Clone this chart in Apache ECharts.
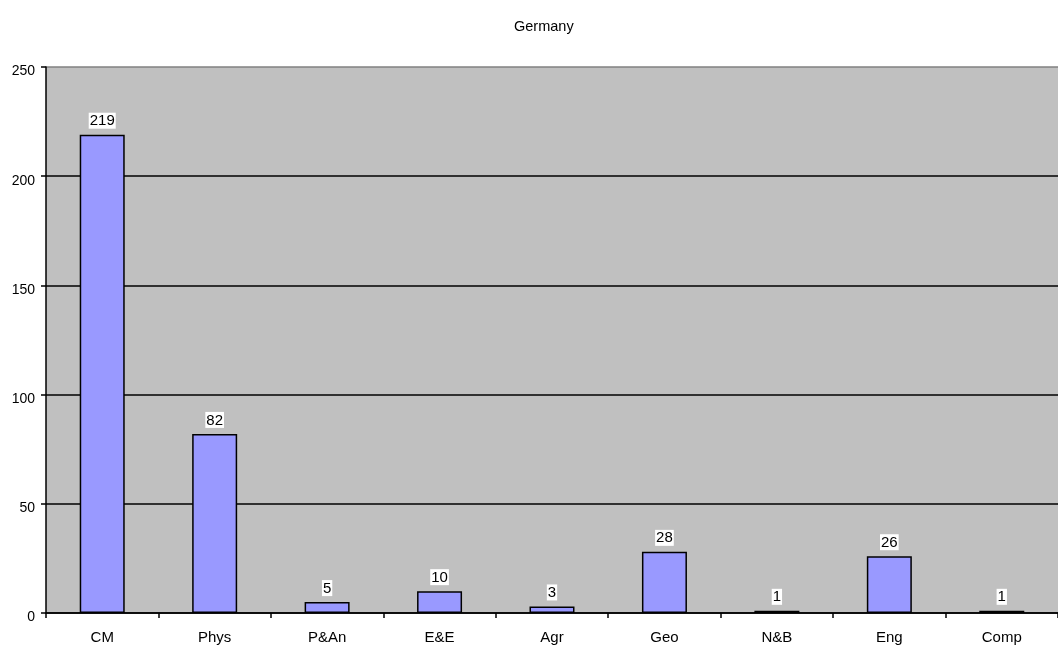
<!DOCTYPE html>
<html><head><meta charset="utf-8">
<script src="https://cdn.jsdelivr.net/npm/echarts@6/dist/echarts.min.js"></script>
<style>html,body{margin:0;padding:0;background:#fff}#c{width:1058px;height:646px}</style>
</head><body><div id="c"></div>
<script>
const categories = ['CM','Phys','P&An','E&E','Agr','Geo','N&B','Eng','Comp'];
const values = [219, 82, 5, 10, 3, 28, 1, 26, 1];
const yTicks = [0, 50, 100, 150, 200, 250];
const chart = echarts.init(document.getElementById('c'));
chart.setOption({
  animation: false,
  title: { text: 'Germany', left: 509, top: 14, textStyle: { fontFamily: 'Liberation Sans', fontSize: 14.5, fontWeight: 'normal', color: '#000' } },
  grid: { left: 46, top: 67, width: 1021, height: 546, backgroundColor: '#C0C0C0', show: true, borderWidth: 0 },
  xAxis: { type: 'category', data: categories,
    axisLine: { lineStyle: { color: '#000', width: 1.5 } },
    axisTick: { show: true, length: 5, lineStyle: { color: '#000', width: 1.5 } },
    axisLabel: { color: '#000', fontFamily: 'Liberation Sans', fontSize: 15, margin: 17 } },
  yAxis: { type: 'value', min: yTicks[0], max: yTicks[yTicks.length-1], interval: 50,
    axisLine: { show: true, lineStyle: { color: '#000', width: 1.5 } },
    axisTick: { show: true, length: 5, lineStyle: { color: '#000', width: 1.5 } },
    axisLabel: { color: '#000', fontFamily: 'Liberation Sans', fontSize: 14, margin: 11, verticalAlign: 'top', lineHeight: 9 },
    splitLine: { lineStyle: { color: ['#000','#000','#000','#000','#000','#808080'], width: 1.5 } } },
  series: [{ type: 'bar', data: values, barWidth: 45,
    itemStyle: { color: '#9999FF', borderColor: '#000', borderWidth: 1.5 },
    label: { show: true, position: 'top', distance: 6, color: '#000', fontFamily: 'Liberation Sans', fontSize: 15, backgroundColor: '#fff', padding: [1,1,0,1] } }]
});
</script></body></html>
